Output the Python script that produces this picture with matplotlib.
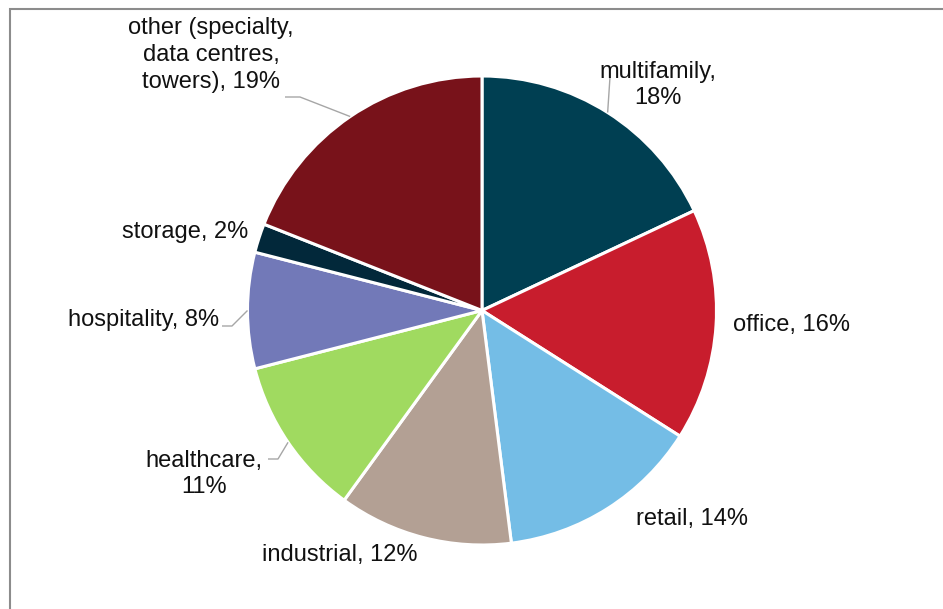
import numpy as np
import matplotlib
matplotlib.use("Agg")
import matplotlib.pyplot as plt
from matplotlib.patches import Rectangle

plt.rcParams['font.family'] = ['Liberation Sans', 'DejaVu Sans']

categories = ['multifamily', 'office', 'retail', 'industrial', 'healthcare',
              'hospitality', 'storage', 'other (specialty,\ndata centres,\ntowers)']
shares = [18, 16, 14, 12, 11, 8, 2, 19]
colors = ['#003F52', '#C81D2D', '#74BDE6', '#B3A094', '#A0DA60',
          '#7279B8', '#02283A', '#78121A']

# label text layout: (x, y, ha, line break before the percentage)
label_pos = {
    'multifamily': (658, 85, 'center', True),
    'office': (733, 325, 'left', False),
    'retail': (636, 519, 'left', False),
    'industrial': (262, 555, 'left', False),
    'healthcare': (204, 474, 'center', True),
    'hospitality': (219, 320, 'right', False),
    'storage': (248, 232, 'right', False),
    'other (specialty,\ndata centres,\ntowers)': (211, 55, 'center', False),
}
# elbow points of the leader lines (label side)
leaders = {
    'multifamily': [(610, 77)],
    'other (specialty,\ndata centres,\ntowers)': [(285, 97), (300, 97)],
    'hospitality': [(222, 326), (232, 326)],
    'healthcare': [(268, 459), (278, 459)],
}

W, H = 943, 609
cx, cy, r = 482, H - 310.5, 234.5

fig = plt.figure(figsize=(W / 100, H / 100), dpi=100)
ax = fig.add_axes([0, 0, 1, 1])

wedges, _ = ax.pie(shares, colors=colors, startangle=90, counterclock=False,
                   center=(cx, cy), radius=r,
                   wedgeprops=dict(edgecolor='white', linewidth=2.2))

for w, name, val in zip(wedges, categories, shares):
    x, y, ha, brk = label_pos[name]
    sep = ',\n' if brk else ', '
    ax.text(x, H - y, f'{name}{sep}{val}%', ha=ha, va='center', fontsize=17,
            color='#111111', linespacing=1.28, multialignment='center')
    if name in leaders:
        mid = np.deg2rad((w.theta1 + w.theta2) / 2)
        end = (cx + r * np.cos(mid), cy + r * np.sin(mid))
        pts = [(px, H - py) for px, py in leaders[name]] + [end]
        xs, ys = zip(*pts)
        ax.plot(xs, ys, color='#A6A6A6', lw=1.0, solid_capstyle='butt')

ax.add_patch(Rectangle((9.5, -20), W + 40, H - 9 + 20, fill=False,
                       edgecolor='#8C8C8C', lw=1.5, clip_on=False))

ax.set_xlim(0, W)
ax.set_ylim(0, H)
ax.axis('off')
fig.savefig('out.png', dpi=100)
